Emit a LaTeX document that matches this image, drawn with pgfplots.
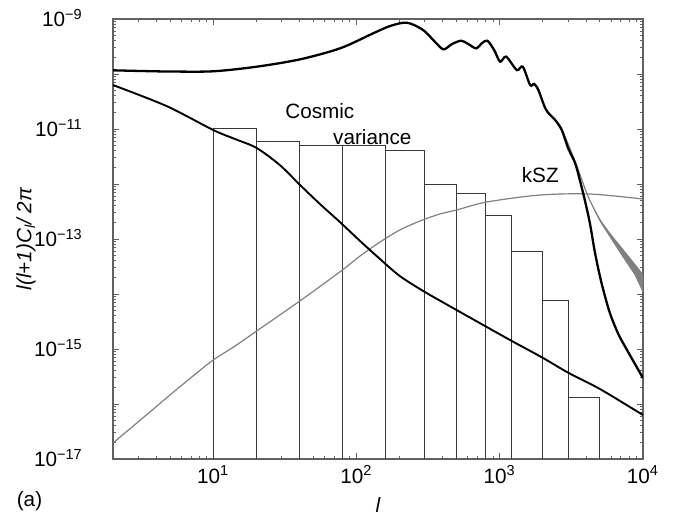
\documentclass[border=0pt]{standalone}
\usepackage{fontspec}
\setmainfont{Liberation Sans}
\usepackage{pgfplots}
\pgfplotsset{compat=1.18}
\definecolor{axgray}{gray}{0.38}
\definecolor{kszgray}{gray}{0.50}
\definecolor{bargray}{gray}{0.22}
\begin{document}
\fontsize{10.35}{12.4}\selectfont
\begin{tikzpicture}
\begin{axis}[
  scale only axis, width=265pt, height=220pt,
  xmode=log, ymode=log,
  xmin=2, xmax=10000, ymin=1e-17, ymax=1e-9,
  axis line style={draw=axgray, line width=0.75pt},
  every tick/.style={draw=axgray, line width=0.45pt},
  major tick length=3pt, minor tick length=1.6pt,
  xtick={10,100,1000,10000},
  xticklabels={10\textsuperscript{1},10\textsuperscript{2},10\textsuperscript{3},10\textsuperscript{4}},
  minor xtick={2,3,4,5,6,7,8,9,20,30,40,50,60,70,80,90,200,300,400,500,600,700,800,900,2000,3000,4000,5000,6000,7000,8000,9000},
  ytick={1e-17,1e-16,1e-15,1e-14,1e-13,1e-12,1e-11,1e-10,1e-9},
  yticklabels={10\textsuperscript{−17},,10\textsuperscript{−15},,10\textsuperscript{−13},,10\textsuperscript{−11},,10\textsuperscript{−9}},
  minor ytick={2e-17,3e-17,4e-17,5e-17,6e-17,7e-17,8e-17,9e-17,
    2e-16,3e-16,4e-16,5e-16,6e-16,7e-16,8e-16,9e-16,
    2e-15,3e-15,4e-15,5e-15,6e-15,7e-15,8e-15,9e-15,
    2e-14,3e-14,4e-14,5e-14,6e-14,7e-14,8e-14,9e-14,
    2e-13,3e-13,4e-13,5e-13,6e-13,7e-13,8e-13,9e-13,
    2e-12,3e-12,4e-12,5e-12,6e-12,7e-12,8e-12,9e-12,
    2e-11,3e-11,4e-11,5e-11,6e-11,7e-11,8e-11,9e-11,
    2e-10,3e-10,4e-10,5e-10,6e-10,7e-10,8e-10,9e-10},
  xticklabel style={anchor=base, yshift=-12pt},
  yticklabel style={anchor=base east, xshift=-11.5pt, yshift=-3.7pt},
  xlabel={\itshape l},
  xlabel style={at={(axis description cs:0.5,0)}, anchor=center, yshift=-23pt},
  ylabel={\itshape l(l+1)C\textsubscript{l}/ 2π},
  ylabel style={at={(axis description cs:-0.164,0.5)}, anchor=center},
]
% cosmic variance histogram
\addplot[draw=bargray, line width=0.5pt] coordinates {
(10,1e-17)(10,1.03e-11)(20,1.03e-11)(20,1e-17)
(20,6.05e-12)(40,6.05e-12)(40,1e-17)
(40,4.98e-12)(80,4.98e-12)(80,1e-17)
(80,4.98e-12)(160,4.98e-12)(160,1e-17)
(160,4.03e-12)(300,4.03e-12)(300,1e-17)
(300,9.9e-13)(500,9.9e-13)(500,1e-17)
(500,6.8e-13)(800,6.8e-13)(800,1e-17)
(800,2.7e-13)(1200,2.7e-13)(1200,1e-17)
(1200,5.9e-14)(2000,5.9e-14)(2000,1e-17)
(2000,7.5e-15)(3000,7.5e-15)(3000,1e-17)
(3000,1.3e-16)(5000,1.3e-16)(5000,1e-17)
};
% gray band (CMB+kSZ spread)
\addplot[draw=kszgray, fill=kszgray, line width=0.4pt] coordinates {
(4600,3.3e-13)(5023,2.21e-13)(5895,1.23e-13)(7260,6.3e-14)(8810,3.37e-14)(10000,2.21e-14)
(10000,1.09e-14)(8810,2.21e-14)(7260,4.71e-14)(5895,1.09e-13)(5023,2.1e-13)
} -- cycle;
% CMB + kSZ thin gray
\addplot[draw=kszgray, line width=0.6pt, smooth] coordinates {
(2436,1.46e-11)(2858,7.2e-12)(3465,2.07e-12)(4140,5.9e-13)(5023,2.21e-13)(5895,1.23e-13)(7260,6.3e-14)(8810,3.37e-14)(10000,2.21e-14)
};
% kSZ
\addplot[draw=kszgray, line width=0.6pt, smooth] coordinates {
(2.01,1.98e-17)(3.1,5.1e-17)(5.0,1.46e-16)(7.1,3.1e-16)(10,6.3e-16)(14.2,1.13e-15)(20.1,2.12e-15)(40.5,7.55e-15)(76.9,2.54e-14)(106,4.91e-14)(146,8.8e-14)(201,1.46e-13)(277,2.12e-13)(382,2.85e-13)(501,3.37e-13)(813,4.71e-13)(1905,6.3e-13)(4256,6.58e-13)(10000,5.33e-13)
};
% decreasing black curve
\addplot[draw=black, line width=0.95pt, smooth] coordinates {
(2.0,6.3e-11)(4.72,2.62e-11)(10,9.6e-12)(14.2,6.58e-12)(20.1,4.52e-12)(29.2,2.21e-12)(40.4,9.6e-13)(55.6,4.33e-13)(76.6,2.04e-13)(106,9.2e-14)(146,4.33e-14)(201,2.12e-14)(300,1.09e-14)(501,5.1e-15)(813,2.51e-15)(1214,1.4e-15)(2000,6.9e-16)(3033,3.66e-16)(5012,1.87e-16)(10000,6.3e-17)
};
% CMB spectrum
\addplot[draw=black, line width=1.15pt, smooth] coordinates {
(2,1.167e-10)(3.1,1.135e-10)(5,1.11e-10)(10,1.12e-10)(20.2,1.36e-10)(40.5,1.85e-10)(76.9,2.93e-10)(131,5.5e-10)(172,7.46e-10)(225,8.57e-10)(292,6.31e-10)(354,3.82e-10)(405,2.81e-10)(465,3.51e-10)(538,4.03e-10)(603,3.51e-10)(684,2.93e-10)(754,3.66e-10)(821,4.03e-10)(914,2.73e-10)(1007,1.67e-10)(1109,2.07e-10)(1316,1.18e-10)(1449,1.36e-10)(1630,6.3e-11)(1738,6.6e-11)(1862,5.1e-11)(2075,2.41e-11)(2248,1.8e-11)(2436,1.46e-11)(2712,9.6e-12)(3001,4.5e-12)(3359,2.41e-12)(3622,1.18e-12)(3926,5.1e-13)(4256,1.95e-13)(4612,5.8e-14)(5000,2.12e-14)(5420,9.2e-15)(5875,4.5e-15)(6360,2.62e-15)(6890,1.65e-15)(8090,7.8e-16)(10000,2.97e-16)
};
\node[anchor=west, inner sep=0pt] at (axis cs:31.7,2.1e-11) {Cosmic};
\node[anchor=west, inner sep=0pt] at (axis cs:68.4,7.2e-12) {variance};
\node[anchor=center, inner sep=0pt] at (axis cs:1919,1.46e-12) {kSZ};
\end{axis}
\node at ([shift={(-41.75pt,-21.25pt)}]current axis.south west) {(a)};
\pgfresetboundingbox
\useasboundingbox ([shift={(-56.5pt,-29pt)}]current axis.south west) rectangle ([shift={(17.5pt,9.5pt)}]current axis.north east);
\end{tikzpicture}
\end{document}
